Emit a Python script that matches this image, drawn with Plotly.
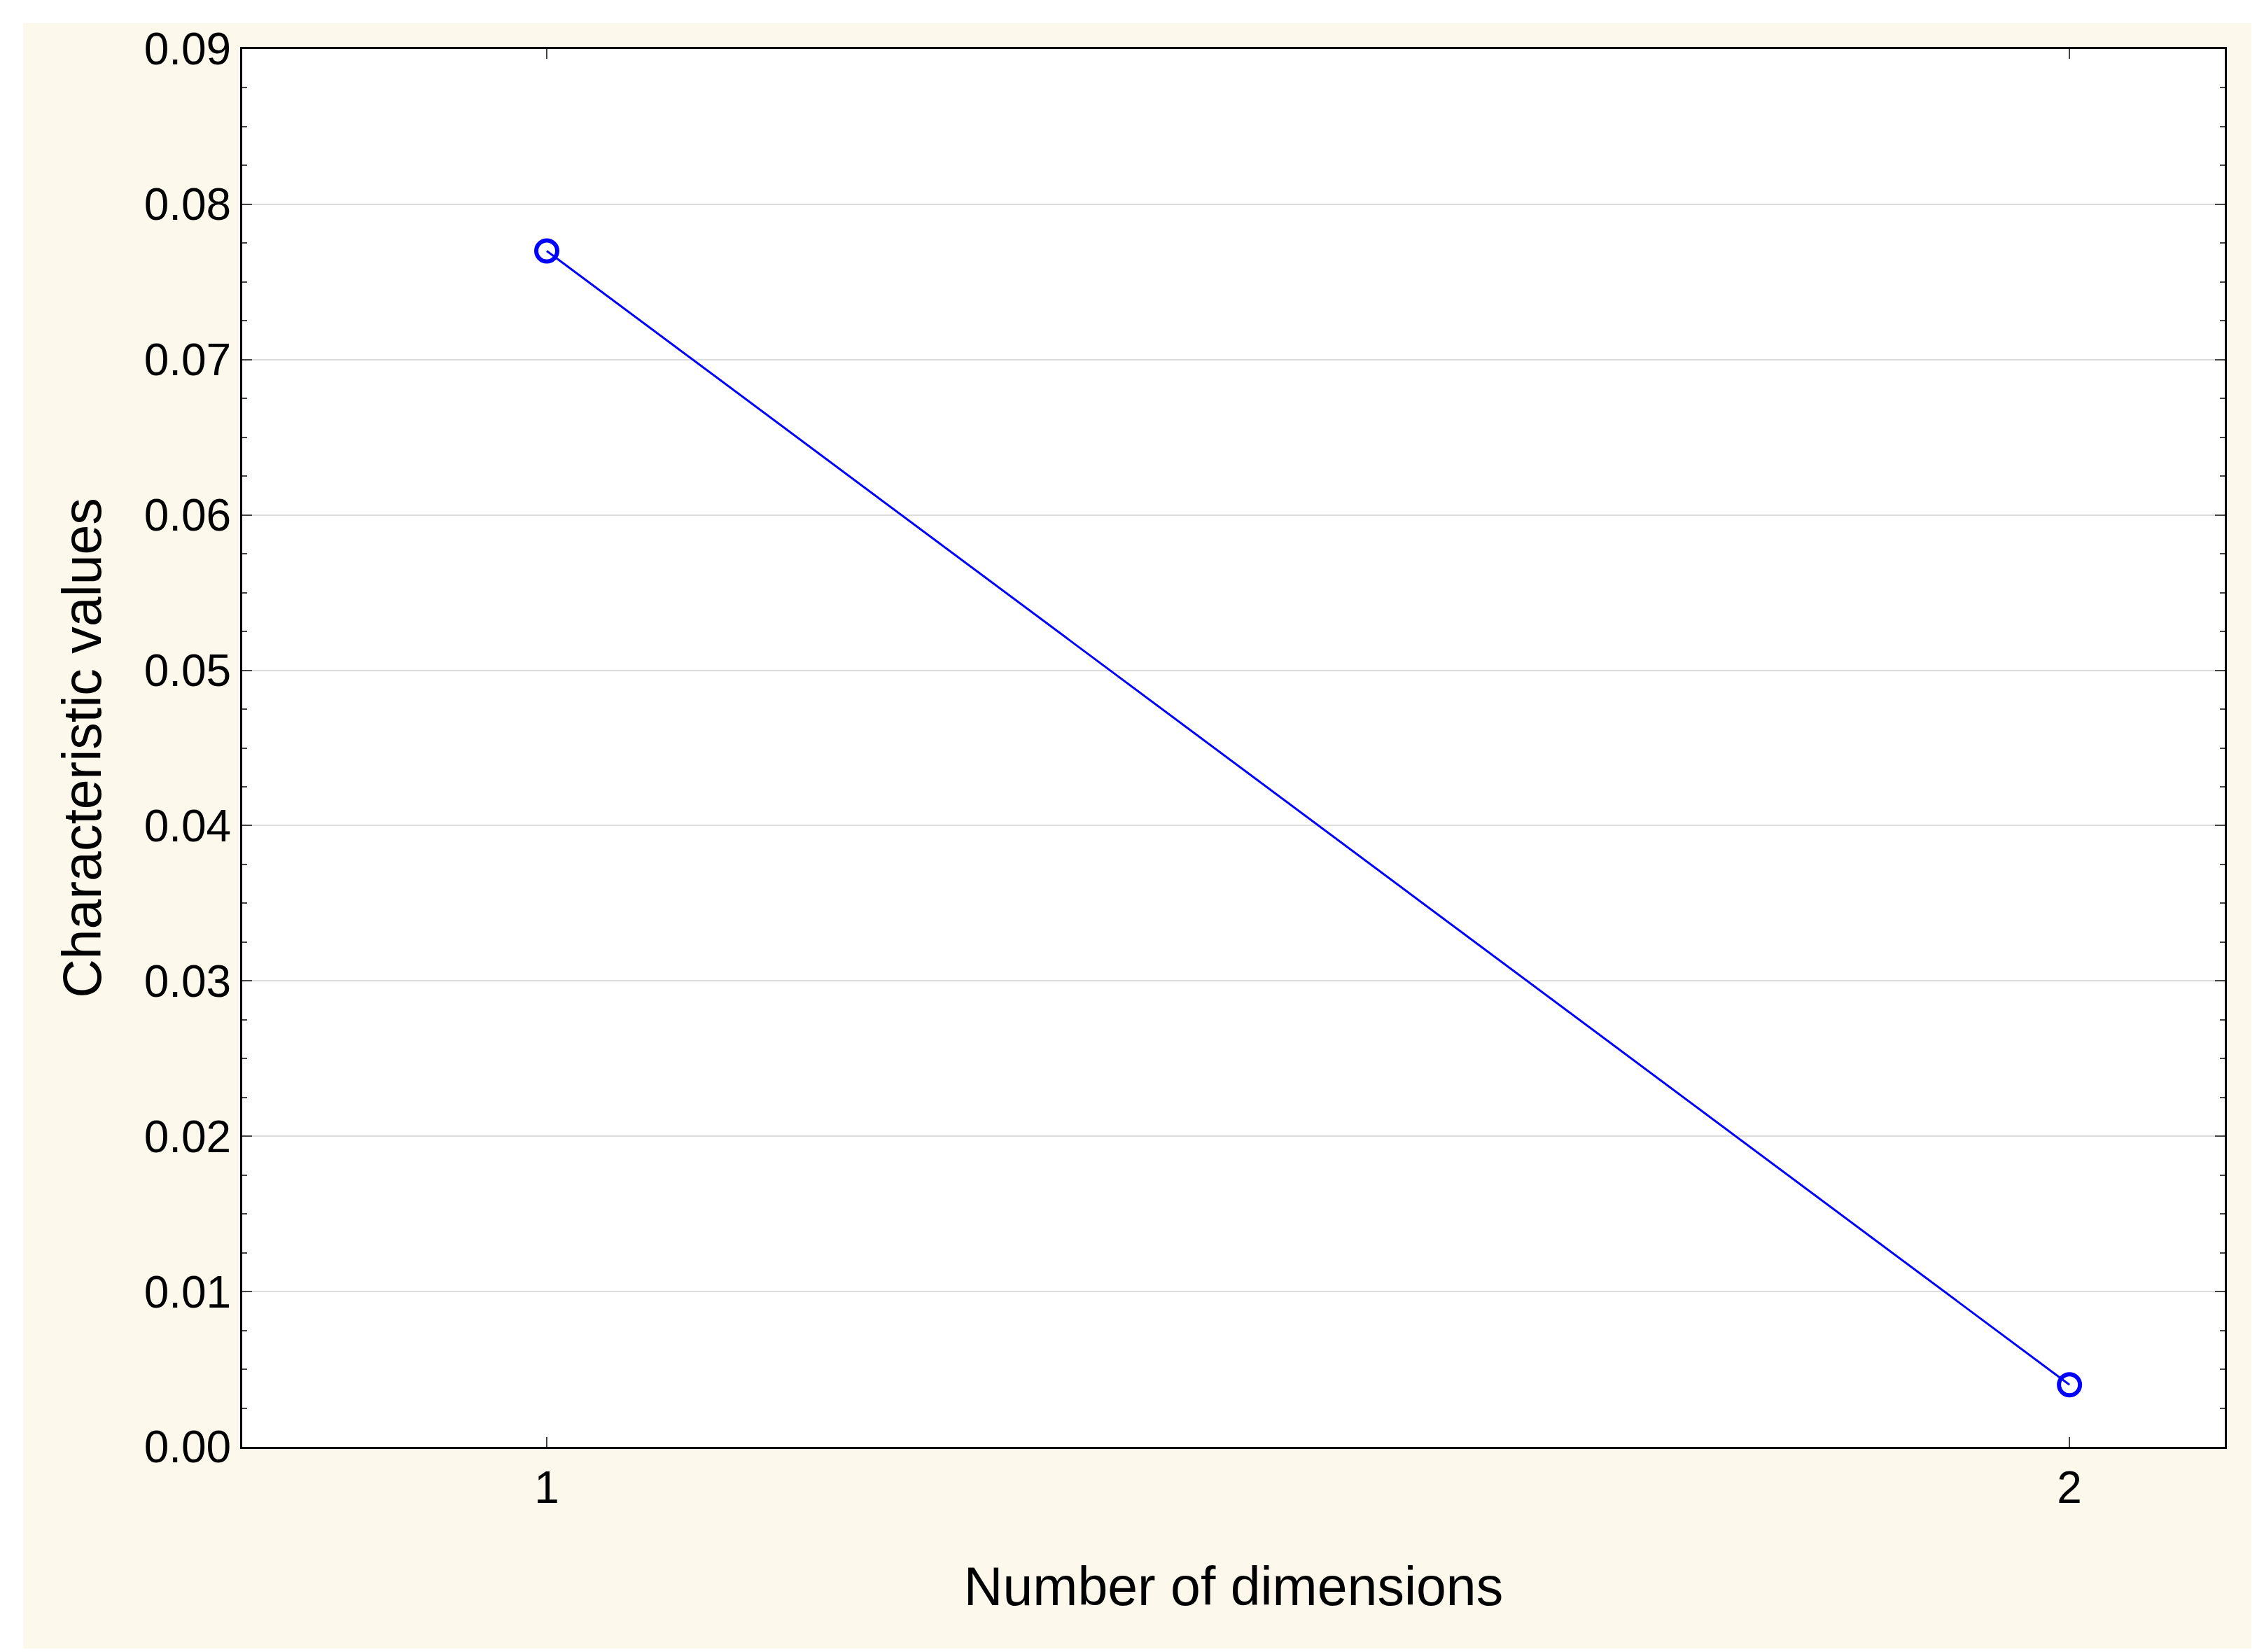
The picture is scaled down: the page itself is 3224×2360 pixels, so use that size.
import plotly.graph_objects as go

dims = [1, 2]
values = [0.077, 0.004]
xticks = [1, 2]
yticks = [0.0, 0.01, 0.02, 0.03, 0.04, 0.05, 0.06, 0.07, 0.08, 0.09]
ylabels = ["%.2f" % v for v in yticks]

fig = go.Figure(go.Scatter(
    x=dims, y=values, mode="lines+markers",
    line=dict(color="#0000ff", width=3),
    marker=dict(symbol="circle-open", size=30, color="#0000ff", line=dict(width=6)),
))

font = dict(family="Liberation Sans, Arial", size=64, color="black")
fig.update_layout(
    width=3224, height=2360,
    margin=dict(l=338, r=54, t=62, b=301),
    paper_bgcolor="white", plot_bgcolor="white",
    showlegend=False, font=font,
    shapes=[dict(type="rect", xref="paper", yref="paper", x0=-0.1105, x1=1.0152,
                 y0=-0.1442, y1=1.0185, fillcolor="#fdf8ec", line=dict(width=0), layer="below"),
            dict(type="rect", xref="paper", yref="paper", x0=0, x1=1,
                 y0=0, y1=1, fillcolor="white", line=dict(width=0), layer="below")],
)
fig.update_xaxes(range=[0.8, 2.102], tickvals=xticks, ticktext=[str(t) for t in xticks],
                 ticks="inside", ticklen=14, tickwidth=2, mirror="allticks",
                 showline=True, linecolor="black", linewidth=3, showgrid=False, zeroline=False,
                 title=dict(text="Number of dimensions", standoff=80), tickfont=font)
fig.update_yaxes(range=[0, 0.09], tickvals=yticks, ticktext=ylabels,
                 ticks="inside", ticklen=14, tickwidth=2, mirror="allticks",
                 showline=True, linecolor="black", linewidth=3,
                 showgrid=True, gridcolor="#dcdcdc", gridwidth=2, zeroline=False,
                 minor=dict(dtick=0.0025, ticks="inside", ticklen=7, tickwidth=2, showgrid=False),
                 title=dict(text="Characteristic values", standoff=36), tickfont=font)
fig.write_html("out.html")
